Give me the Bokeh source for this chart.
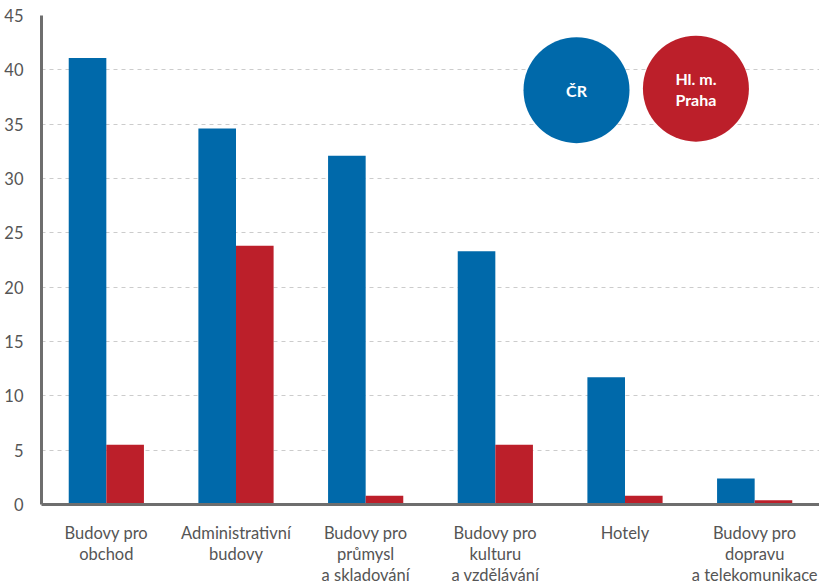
from bokeh.plotting import figure
from bokeh.models import FactorRange, Range1d, FixedTicker, ColumnDataSource
from bokeh.transform import dodge
from bokeh.core.properties import value
from bokeh.embed import file_html
from bokeh.resources import INLINE

categories = ["Budovy pro\nobchod", "Administrativní\nbudovy", "Budovy pro\nprůmysl\na skladování",
              "Budovy pro\nkulturu\na vzdělávání", "Hotely", "Budovy pro\ndopravu\na telekomunikace"]
cr_values = [41.1, 34.6, 32.1, 23.3, 11.7, 2.4]
praha_values = [5.5, 23.8, 0.8, 5.5, 0.8, 0.4]
y_ticks = [0, 5, 10, 15, 20, 25, 30, 35, 40, 45]
series_names = ["ČR", "Hl. m.\nPraha"]

BLUE = "#0069AA"
RED = "#BC1F2A"
FONT = "Lato"
TXT = "#555555"

source = ColumnDataSource(data=dict(cat=categories, cr=cr_values, praha=praha_values))

p = figure(width=819, height=587, output_backend="svg", toolbar_location=None,
           x_range=FactorRange(factors=categories, range_padding=0),
           y_range=Range1d(0, 45),
           min_border_left=41, min_border_right=0, min_border_top=15, min_border_bottom=81)
p.outline_line_color = None

p.vbar(x=dodge("cat", -0.145, range=p.x_range), top="cr", width=0.29, source=source,
       fill_color=BLUE, line_color=None)
p.vbar(x=dodge("cat", 0.145, range=p.x_range), top="praha", width=0.29, source=source,
       fill_color=RED, line_color=None)

# legend bubbles (positioned relative to the last two category slots)
legend_specs = [(categories[4], -0.374, 38.13, BLUE, series_names[0]),
                (categories[5], -0.453, 38.27, RED, series_names[1])]
for cat, off, yy, col, name in legend_specs:
    src = ColumnDataSource(data=dict(x=[cat], y=[yy], t=[name]))
    p.scatter(x=dodge("x", off, range=p.x_range), y="y", size=106, marker="circle",
              fill_color=col, line_color=None, source=src)
    p.text(x=dodge("x", off, range=p.x_range), y="y", text="t", source=src,
           text_align="center", text_baseline="middle", text_font=value(FONT),
           text_font_style="bold", text_font_size="16px", text_color="white",
           text_line_height=1.1)

p.xgrid.grid_line_color = None
p.ygrid.grid_line_color = "#cccccc"
p.ygrid.grid_line_dash = "4 4"
p.ygrid.grid_line_width = 1

p.yaxis.ticker = FixedTicker(ticks=y_ticks)
for ax in (p.xaxis[0], p.yaxis[0]):
    ax.major_tick_line_color = None
    ax.minor_tick_line_color = None
    ax.major_label_text_font = FONT
    ax.major_label_text_color = TXT
    ax.axis_line_width = 3
    ax.axis_line_color = "#6e6e6e"
p.yaxis.major_label_text_font_size = "16.5px"
p.yaxis.major_label_standoff = 12
p.xaxis.major_label_text_font_size = "16.5px"
p.xaxis.major_label_standoff = 12
p.xaxis.major_label_text_line_height = 1.05

open("out.html", "w").write(file_html(p, INLINE))
